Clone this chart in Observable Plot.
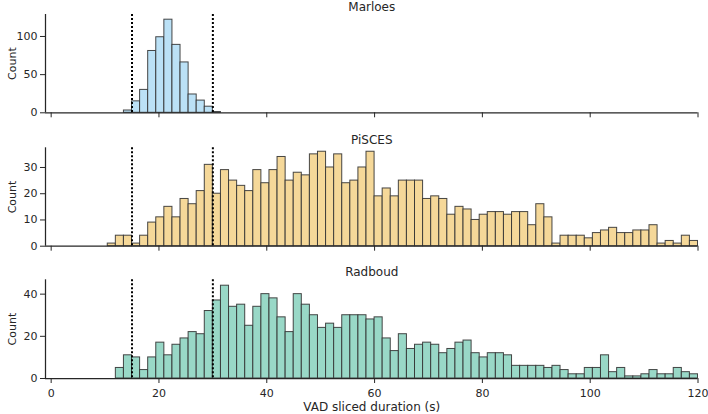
<!DOCTYPE html>
<html><head><meta charset="utf-8">
<script src="https://cdn.jsdelivr.net/npm/d3@7"></script>
<script src="https://cdn.jsdelivr.net/npm/@observablehq/plot@0.6"></script>
<style>
body{margin:0;background:#fff;}
#chart{position:relative;width:708px;height:414px;}
#chart svg{position:absolute;left:0;top:0;}
</style>
</head><body><div id="chart"></div>
<script>
const binWidth = 1.5;
const thresholds = [15, 30];
const xTicks = [0, 20, 40, 60, 80, 100, 120];

const marloesStart = 13.5;
const marloesCounts = [3,15,30,81,99,122,89,66,24,16,8,1];
const marloesTicks = [0, 50, 100];

const piscesStart = 10.5;
const piscesCounts = [1,4,4,1,4,9,11,15,11,18,16,21,31,20,29,25,23,
  21,29,24,29,34,25,28,27,35,36,30,35,24,25,30,36,19,22,19,25,25,25,18,19,18,12,15,14,10,
  12,13,13,12,13,13,8,16,11,1,4,4,4,3,5,6,7,5,5,6,6,8,1,2,1,4,2];
const piscesTicks = [0, 10, 20, 30];

const radboudStart = 12;
const radboudCounts = [5,11,10,4,10,17,11,16,19,22,21,32,37,44,34,35,
  25,34,40,38,29,22,40,35,30,24,26,24,30,30,30,28,29,19,13,21,14,16,17,16,12,14,17,18,12,
  10,12,12,11,6,6,6,6,5,6,4,2,2,5,5,11,3,5,1,1,2,4,2,2,5,3,2];
const radboudTicks = [0, 20, 40];

const ink = "#262626";
const W = 708, H = 414;

function panel({title, start, counts, fill, yMax, yTicks, top, bottom, last}) {
  const rows = counts.map((c, i) => ({x1: start + i * binWidth, x2: start + (i + 1) * binWidth, y: c}));
  return Plot.plot({
    width: W, height: H,
    marginLeft: 45, marginRight: 10.5,
    marginTop: top, marginBottom: H - bottom,
    style: {background: "transparent", fontFamily: "DejaVu Sans", fontSize: "11px", color: ink, overflow: "visible"},
    x: {domain: [-1.05, 120]},
    y: {domain: [0, yMax]},
    marks: [
      Plot.rectY(rows, {x1: "x1", x2: "x2", y: "y", fill, stroke: "#333", strokeWidth: 1, strokeOpacity: 0.9, insetLeft: 0, insetRight: 0}),
      Plot.ruleX(thresholds, {stroke: "black", strokeWidth: 2, strokeDasharray: "2,2"}),
      Plot.ruleY([0], {stroke: ink, strokeWidth: 1.25}),
      Plot.ruleX([-1.05], {stroke: ink, strokeWidth: 1.25}),
      Plot.axisY({ticks: yTicks, tickSize: 5, tickPadding: 3, fontSize: 11, label: "Count", labelAnchor: "center", labelArrow: "none", labelOffset: 37}),
      Plot.axisX({ticks: xTicks, tickSize: 5, tickPadding: 6, fontSize: 11, label: null, tickFormat: last ? (d => String(d)) : (() => "")}),
      Plot.text([title], {frameAnchor: "top", dy: -7.5, fontSize: 12, fill: ink, lineAnchor: "middle"}),
      last ? Plot.text(["VAD sliced duration (s)"], {frameAnchor: "bottom", dy: 28.2, fontSize: 12, fill: ink, lineAnchor: "middle"}) : null
    ]
  });
}

const chart = document.getElementById("chart");
chart.append(panel({title: "Marloes", start: marloesStart, counts: marloesCounts, fill: "#bbe1f6", yMax: 128.8, yTicks: marloesTicks, top: 14, bottom: 112.3}));
chart.append(panel({title: "PiSCES", start: piscesStart, counts: piscesCounts, fill: "#f5d899", yMax: 37.5, yTicks: piscesTicks, top: 147.3, bottom: 245.7}));
chart.append(panel({title: "Radboud", start: radboudStart, counts: radboudCounts, fill: "#99d8c7", yMax: 46.8, yTicks: radboudTicks, top: 279.3, bottom: 378, last: true}));
</script>
</body></html>
